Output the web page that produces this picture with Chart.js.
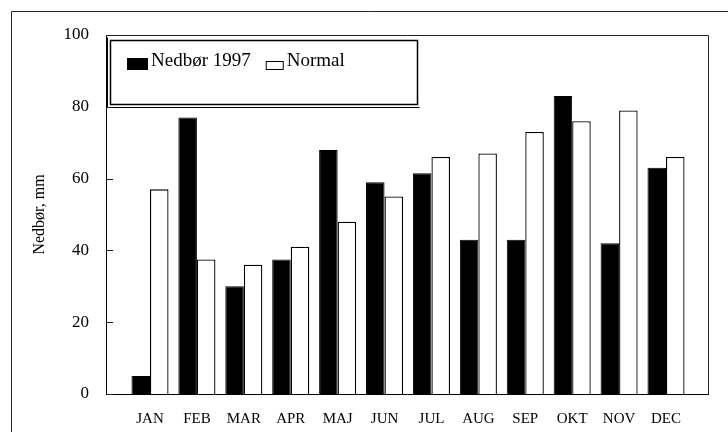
<!DOCTYPE html>
<html>
<head>
<meta charset="utf-8">
<script src="https://cdn.jsdelivr.net/npm/chart.js@4/dist/chart.umd.min.js"></script>
<style>
  *{margin:0;padding:0;box-sizing:border-box}
  html,body{width:728px;height:432px;background:#fff;overflow:hidden}
  #wrap{position:relative;width:728px;height:432px}
</style>
</head>
<body>
<div id="wrap"><canvas id="chart" width="728" height="432"></canvas></div>
<script>
// ─── Data ──────────────────────────────────────────────────────
const MONTHS = ["JAN", "FEB", "MAR", "APR", "MAJ", "JUN", "JUL", "AUG", "SEP", "OKT", "NOV", "DEC"];
const NEDBOR_1997 = [5, 77, 30, 37.5, 68, 59, 61.5, 43, 43, 83, 42, 63];
const NORMAL = [57, 37.5, 36, 41, 48, 55, 66, 67, 73, 76, 79, 66];
const Y_TICKS = [0, 20, 40, 60, 80, 100];

const SERIF = "'Liberation Serif', 'Times New Roman', serif";

// ─── Plugins ───────────────────────────────────────────────────

// outer frame, top/right plot border and inward y ticks
const framePlugin = {
  id: "frame",
  afterDraw(chart) {
    const { ctx, chartArea: a, scales: { y } } = chart;
    ctx.save();
    ctx.strokeStyle = "#222";
    ctx.lineWidth = 1;
    ctx.beginPath();
    // outer frame (top + left)
    ctx.moveTo(11.5, 432);
    ctx.lineTo(11.5, 11.5);
    ctx.lineTo(728, 11.5);
    // plot top + right
    ctx.moveTo(a.left, a.top + 0.5);
    ctx.lineTo(a.right + 0.5, a.top + 0.5);
    ctx.lineTo(a.right + 0.5, a.bottom);
    ctx.stroke();
    // inward tick marks
    ctx.beginPath();
    Y_TICKS.forEach((v) => {
      const py = Math.round(y.getPixelForValue(v)) + 0.5;
      ctx.moveTo(a.left, py);
      ctx.lineTo(a.left + 7, py);
    });
    ctx.stroke();
    ctx.restore();
  },
};

// boxed legend inside the plot, top-left
const legendBoxPlugin = {
  id: "legendBox",
  afterDatasetsDraw(chart) {
    const { ctx } = chart;
    const ds = chart.data.datasets;
    ctx.save();
    ctx.fillStyle = "#fff";
    ctx.fillRect(110, 40, 308, 65);
    ctx.strokeStyle = "#000";
    ctx.lineWidth = 1.5;
    ctx.strokeRect(110.5, 40.5, 307, 64);
    ctx.lineWidth = 1;
    ctx.beginPath();
    ctx.moveTo(107.5, 37.5);
    ctx.lineTo(107.5, 107.5);
    ctx.lineTo(419.5, 107.5);
    ctx.stroke();

    ctx.font = "19px " + SERIF;
    ctx.textBaseline = "alphabetic";
    let x = 127;
    ds.forEach((d, i) => {
      const sw = i === 0 ? 21 : 18;
      const sh = i === 0 ? 12 : 9;
      ctx.fillStyle = d.backgroundColor;
      ctx.fillRect(x, 70 - sh, sw, sh);
      ctx.strokeStyle = "#000";
      ctx.lineWidth = 1;
      ctx.strokeRect(x + 0.5, 70 - sh + 0.5, sw - 1, sh - 1);
      x += sw + 3;
      ctx.fillStyle = "#000";
      ctx.fillText(d.label, x, 66);
      x += ctx.measureText(d.label).width + 15;
    });
    ctx.restore();
  },
};

// ─── Chart ─────────────────────────────────────────────────────

const ctx = document.getElementById("chart").getContext("2d");
new Chart(ctx, {
  type: "bar",
  data: {
    datasets: [
      {
        label: "Nedbør 1997",
        data: NEDBOR_1997.map((v, i) => ({ x: i, y: v })),
        backgroundColor: "#000",
        borderColor: "#000",
        borderWidth: 1,
      },
      {
        label: "Normal",
        data: NORMAL.map((v, i) => ({ x: i, y: v })),
        backgroundColor: "#fff",
        borderColor: "#000",
        borderWidth: 1.3,
        borderSkipped: "bottom",
      },
    ],
  },
  options: {
    responsive: false,
    animation: false,
    categoryPercentage: 0.79,
    barPercentage: 1.0,
    layout: { padding: { left: 0, right: 20, top: 35, bottom: 0 } },
    plugins: {
      legend: { display: false },
      tooltip: { enabled: false },
    },
    scales: {
      x: {
        type: "linear",
        offset: false,
        min: -0.938,
        max: 11.895,
        afterBuildTicks: (s) => {
          s.ticks = MONTHS.map((_, i) => ({ value: i }));
        },
        afterFit: (s) => { s.height = 38; },
        grid: { display: false, offset: false },
        border: { display: true, color: "#000", width: 1 },
        ticks: {
          autoSkip: false,
          maxRotation: 0,
          padding: 8,
          color: "#000",
          font: { family: SERIF, size: 15 },
          callback: (v, i) => MONTHS[i],
        },
      },
      y: {
        min: 0,
        max: 100,
        afterBuildTicks: (s) => {
          s.ticks = Y_TICKS.map((v) => ({ value: v }));
        },
        afterFit: (s) => { s.width = 106; },
        grid: { display: false },
        border: { display: true, color: "#000", width: 1 },
        ticks: {
          padding: 9,
          color: "#000",
          font: { family: SERIF, size: 17 },
        },
        title: {
          display: true,
          text: "Nedbør, mm",
          color: "#000",
          padding: { top: 30, bottom: 0 },
          font: { family: SERIF, size: 16 },
        },
      },
    },
  },
  plugins: [framePlugin, legendBoxPlugin],
});
</script>
</body>
</html>
